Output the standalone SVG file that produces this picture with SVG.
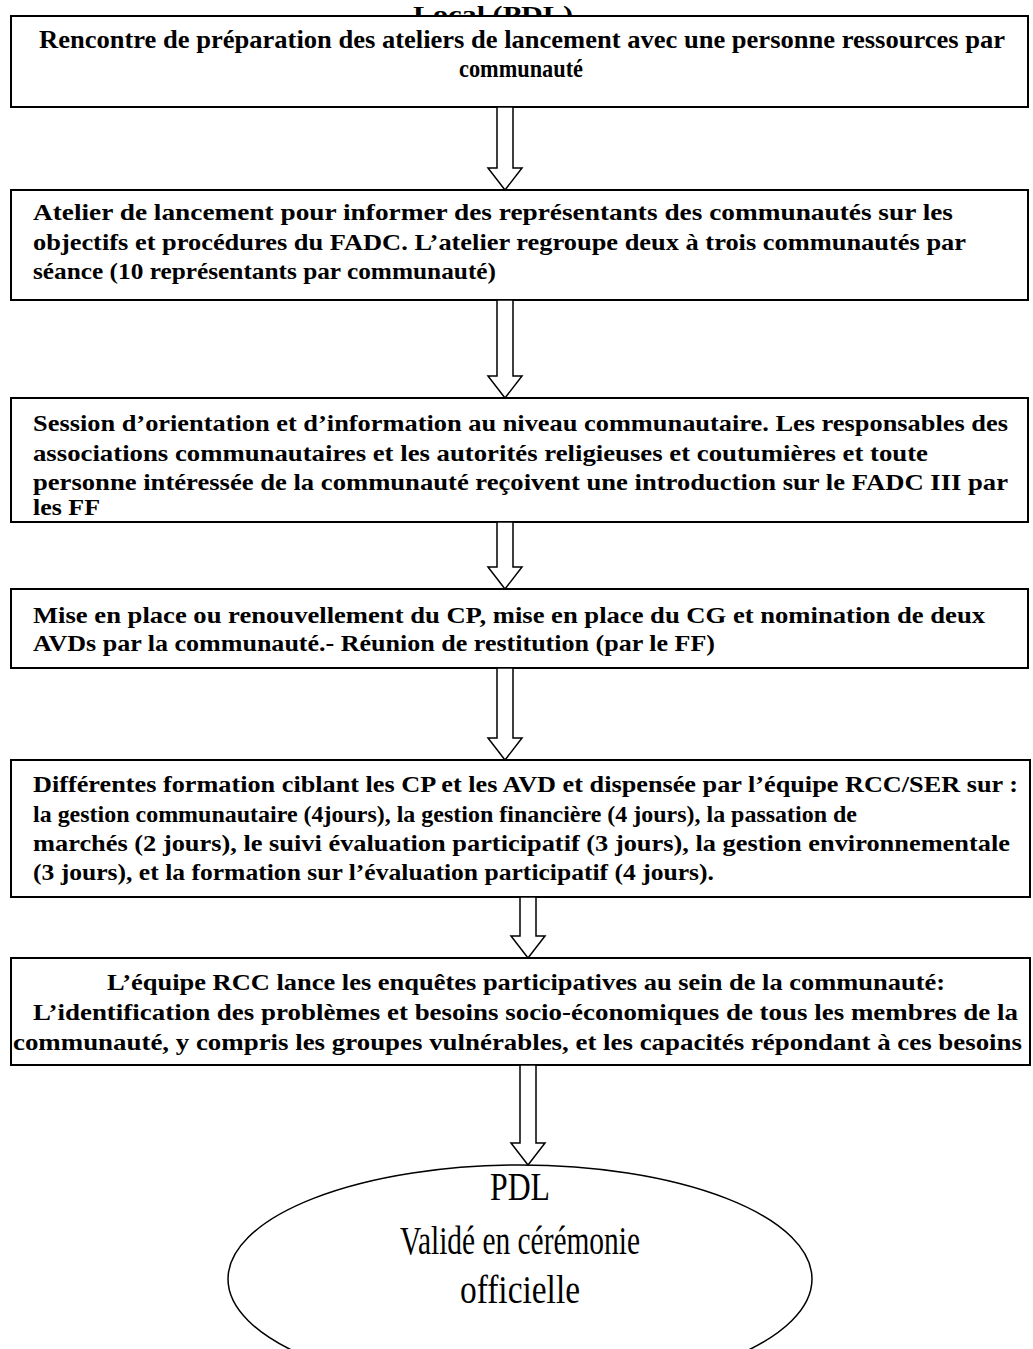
<svg xmlns="http://www.w3.org/2000/svg" width="1033" height="1349" viewBox="0 0 1033 1349">
<style>
.bx{fill:#fff;stroke:#000;stroke-width:2}
.t{font-family:"Liberation Serif","Times New Roman",serif;font-weight:bold;font-size:23px;fill:#000}
.t1{font-family:"Liberation Serif","Times New Roman",serif;font-weight:bold;font-size:25px;fill:#000}
.e{font-family:"Liberation Serif","Times New Roman",serif;font-size:40px;fill:#000;text-anchor:middle}
.ar{fill:#fff;stroke:#000;stroke-width:1.5}
</style>
<rect width="1033" height="1349" fill="#fff"/>
<text class="t" x="413" y="22" textLength="160" lengthAdjust="spacingAndGlyphs">Local (PDL)</text>
<g id="n1">
<rect class="bx" x="11" y="16" width="1017" height="91"/>
<text class="t1" x="39" y="48" textLength="966" lengthAdjust="spacingAndGlyphs">Rencontre de préparation des ateliers de lancement avec une personne ressources par</text>
<text class="t1" x="459" y="77" textLength="124" lengthAdjust="spacingAndGlyphs">communauté</text>
</g>
<g id="n2">
<rect class="bx" x="11" y="190" width="1017" height="110"/>
<text class="t" x="33" y="220" textLength="920" lengthAdjust="spacingAndGlyphs">Atelier de lancement  pour  informer des représentants des communautés  sur les</text>
<text class="t" x="33" y="250" textLength="933" lengthAdjust="spacingAndGlyphs">objectifs et procédures du FADC. L’atelier regroupe deux à trois communautés par</text>
<text class="t" x="33" y="279" textLength="463" lengthAdjust="spacingAndGlyphs">séance (10 représentants par communauté)</text>
</g>
<g id="n3">
<rect class="bx" x="11" y="398" width="1017" height="124"/>
<text class="t" x="33" y="431" textLength="975" lengthAdjust="spacingAndGlyphs">Session d’orientation et d’information  au niveau communautaire.  Les responsables des</text>
<text class="t" x="33" y="461" textLength="895" lengthAdjust="spacingAndGlyphs">associations communautaires  et les autorités religieuses et coutumières et toute</text>
<text class="t" x="33" y="490" textLength="975" lengthAdjust="spacingAndGlyphs">personne intéressée de la communauté  reçoivent une introduction sur le FADC  III  par</text>
<text class="t" x="33" y="515" textLength="67" lengthAdjust="spacingAndGlyphs">les FF</text>
</g>
<g id="n4">
<rect class="bx" x="11" y="589" width="1017" height="79"/>
<text class="t" x="33" y="623" textLength="952" lengthAdjust="spacingAndGlyphs">Mise en place ou renouvellement du CP, mise en place du CG et nomination  de deux</text>
<text class="t" x="33" y="651" textLength="682" lengthAdjust="spacingAndGlyphs">AVDs  par  la communauté.-  Réunion de restitution (par le FF)</text>
</g>
<g id="n5">
<rect class="bx" x="11" y="760" width="1019" height="137"/>
<text class="t" x="33" y="792" textLength="985" lengthAdjust="spacingAndGlyphs">Différentes formation  ciblant les CP et les AVD et dispensée par l’équipe RCC/SER sur :</text>
<text class="t" x="33" y="822" textLength="824" lengthAdjust="spacingAndGlyphs">la gestion communautaire  (4jours), la gestion financière (4 jours), la passation de</text>
<text class="t" x="33" y="851" textLength="977" lengthAdjust="spacingAndGlyphs">marchés (2 jours), le suivi évaluation  participatif  (3 jours), la gestion environnementale</text>
<text class="t" x="33" y="880" textLength="681" lengthAdjust="spacingAndGlyphs">(3 jours), et la formation  sur l’évaluation  participatif  (4 jours).</text>
</g>
<g id="n6">
<rect class="bx" x="11" y="958" width="1019" height="107"/>
<text class="t" x="107" y="990" textLength="838" lengthAdjust="spacingAndGlyphs">L’équipe  RCC  lance les enquêtes participatives au sein de la communauté:</text>
<text class="t" x="33" y="1020" textLength="985" lengthAdjust="spacingAndGlyphs">L’identification  des problèmes  et besoins socio-économiques  de tous les membres de la</text>
<text class="t" x="13" y="1050" textLength="1009" lengthAdjust="spacingAndGlyphs">communauté,  y compris les groupes vulnérables,  et  les capacités répondant  à ces besoins</text>
</g>
<g id="n7">
<ellipse cx="520" cy="1279" rx="292" ry="114" fill="#fff" stroke="#000" stroke-width="1.5"/>
<text class="e" x="520" y="1200" textLength="60" lengthAdjust="spacingAndGlyphs">PDL</text>
<text class="e" x="520" y="1254" textLength="240" lengthAdjust="spacingAndGlyphs">Validé en cérémonie</text>
<text class="e" x="520" y="1303" textLength="120" lengthAdjust="spacingAndGlyphs">officielle</text>
</g>
<g id="connectors">
<path class="ar" d="M497,107 V168 H488 L505,190 L522,168 H513 V107 Z"/>
<path class="ar" d="M497,300 V376 H488 L505,398 L522,376 H513 V300 Z"/>
<path class="ar" d="M497,522 V567 H488 L505,589 L522,567 H513 V522 Z"/>
<path class="ar" d="M497,668 V738 H488 L505,760 L522,738 H513 V668 Z"/>
<path class="ar" d="M520,897 V936 H511 L528,958 L545,936 H536 V897 Z"/>
<path class="ar" d="M520,1065 V1143 H511 L528,1165 L545,1143 H536 V1065 Z"/>
</g>
</svg>
